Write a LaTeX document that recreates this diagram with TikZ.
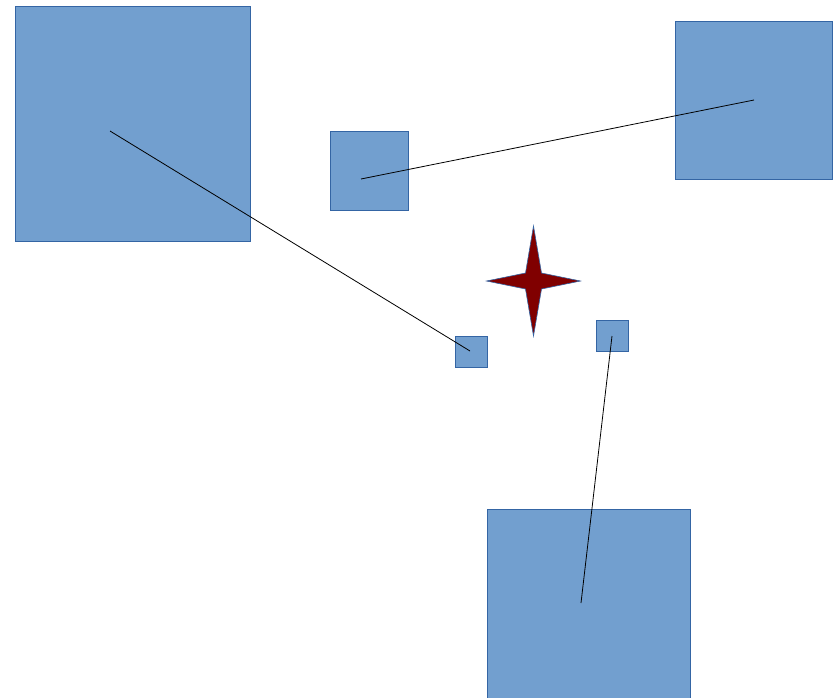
\documentclass[tikz,border=0pt]{standalone}
\usepackage{tikz}
\usetikzlibrary{calc}
\definecolor{boxfill}{HTML}{729FCF}
\definecolor{boxline}{HTML}{3465A4}
\definecolor{starred}{HTML}{800000}

\begin{document}
\begin{tikzpicture}[x=1pt,y=-1pt,
  box/.style={draw=boxline,fill=boxfill,line width=0.8pt,inner sep=0pt,outer sep=0pt},
  link/.style={black,line width=0.8pt}]
\useasboundingbox (0,0) rectangle (833,697);
\clip (0,0) rectangle (833,697);
% squares
\node[box,minimum width=235pt,minimum height=235pt] (bigA) at (132.5,123.5) {};
\node[box,minimum width=78pt,minimum height=79pt] (midB) at (369,170.5) {};
\node[box,minimum width=157pt,minimum height=158pt] (bigC) at (753.5,100) {};
\node[box,minimum width=32pt,minimum height=31pt] (tinyD) at (471,351.5) {};
\node[box,minimum width=32pt,minimum height=31pt] (tinyE) at (612,335.5) {};
\node[box,minimum width=203pt,minimum height=200pt] (bigF) at (588.5,609) {};
% link ends
\coordinate (pA) at (110,131);
\coordinate (pD) at (470,351);
\coordinate (pB) at (361,179);
\coordinate (pC) at (754,100);
\coordinate (pE) at (612,336);
\coordinate (pF) at (581,603);
\draw[link] (pA) -- (pD);
\draw[link] (pB) -- (pC);
\draw[link] (pE) -- (pF);
% star
\coordinate (sc) at (533.5,281);
\filldraw[fill=starred,draw=boxline,line width=0.6pt]
  ($(sc)+(0,-55)$) -- ($(sc)+(8,-8)$) -- ($(sc)+(47,0)$) -- ($(sc)+(8,8)$)
  -- ($(sc)+(0,55)$) -- ($(sc)+(-8,8)$) -- ($(sc)+(-47,0)$) -- ($(sc)+(-8,-8)$) -- cycle;
\end{tikzpicture}
\end{document}
